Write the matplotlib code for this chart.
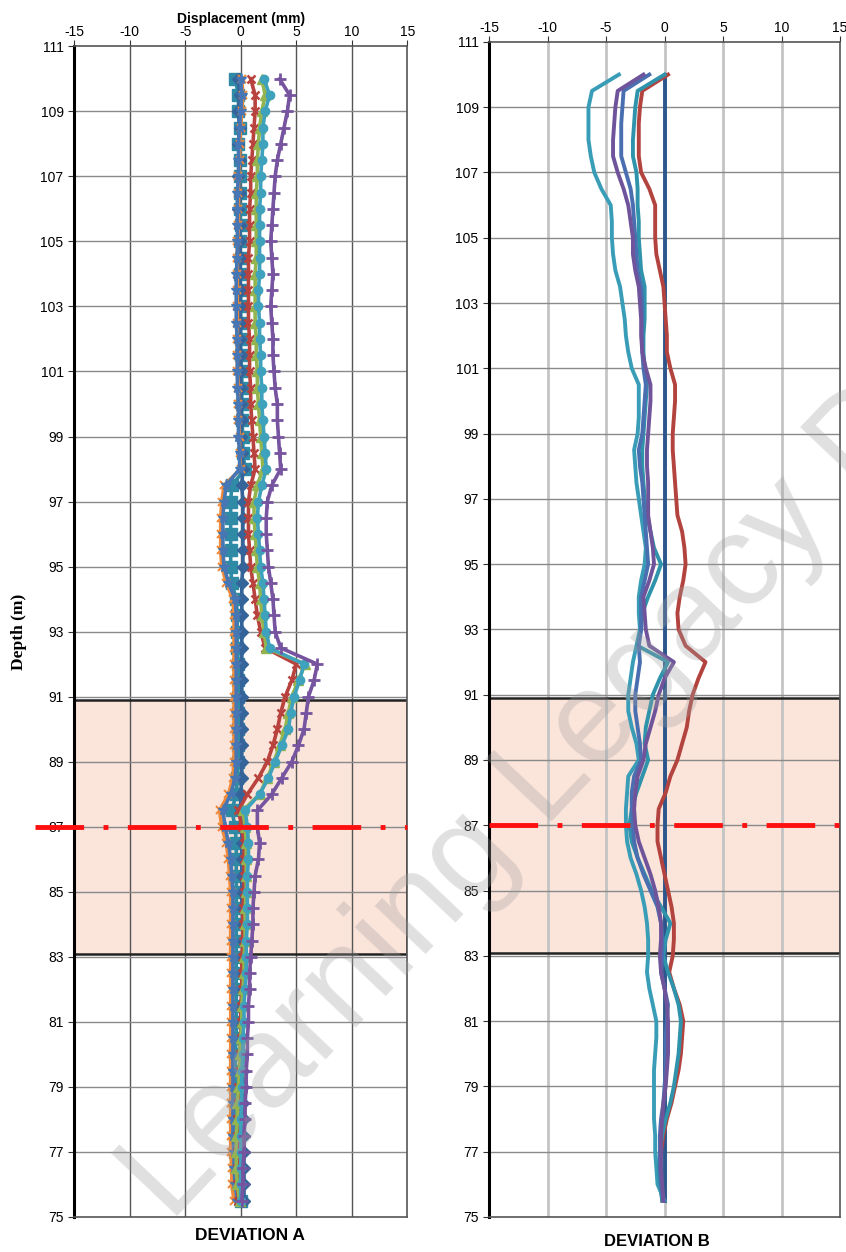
import numpy as np
import matplotlib.pyplot as plt
from matplotlib.patches import Rectangle

# inclinometer stations, top of casing to toe (m)
depth = np.arange(110.0, 75.4, -0.5)

# ---- DEVIATION A (mm) ----
a_diamond = [-0.2, -0.1, -0.2, -0.1, -0.2, -0.1, -0.2, -0.1, -0.2, -0.1,
             -0.1, 0.0, -0.1, 0.0, -0.1, 0.0, -0.1, 0.0, 0.0, 0.0,
             0.0, 0.1, 0.0, 0.1, 0.2, 0.1, 0.2, 0.2, 0.2, 0.2,
             0.2, 0.1, 0.1, 0.1, 0.1, 0.1, 0.1, 0.1, 0.1, 0.1,
             0.1, 0.1, 0.1, 0.1, 0.0, 0.0, 0.1, 0.1, 0.1, 0.1,
             0.1, 0.1, 0.2, 0.2, 0.2, 0.2, 0.2, 0.2, 0.2, 0.2,
             0.2, 0.2, 0.2, 0.2, 0.3, 0.3, 0.3, 0.3, 0.3, 0.3]
a_square = [-0.5, -0.2, -0.2, -0.1, -0.2, -0.1, -0.1, -0.1, -0.1, 0.0,
            -0.1, 0.0, -0.1, 0.0, 0.0, 0.0, 0.0, 0.0, 0.1, 0.1,
            0.1, 0.1, 0.2, 0.2, 0.4, -0.8, -0.9, -0.9, -0.9, -0.9,
            -0.9, -0.8, -0.4, -0.3, -0.3, -0.3, -0.2, -0.2, -0.2, -0.2,
            -0.2, -0.2, -0.2, -0.3, -0.4, -0.8, -0.5, -0.4, -0.4, -0.4,
            -0.4, -0.4, -0.4, -0.4, -0.4, -0.4, -0.4, -0.4, -0.4, -0.4,
            -0.5, -0.5, -0.5, -0.5, -0.5, -0.5, -0.5, -0.4, -0.3, 0.0]
a_cross = [0.1, 0.2, 0.1, 0.0, -0.1, -0.1, -0.2, -0.2, -0.2, -0.2,
           -0.3, -0.3, -0.3, -0.3, -0.3, -0.3, -0.3, -0.3, -0.3, -0.2,
           -0.2, -0.2, -0.1, -0.1, 0.0, -1.5, -1.7, -1.8, -1.8, -1.8,
           -1.7, -1.3, -0.7, -0.6, -0.6, -0.6, -0.6, -0.6, -0.6, -0.6,
           -0.6, -0.6, -0.6, -0.7, -1.1, -1.9, -1.7, -1.3, -1.1, -1.0,
           -0.9, -0.9, -0.9, -0.9, -0.9, -0.9, -0.9, -0.9, -0.9, -0.9,
           -0.9, -0.9, -0.9, -0.9, -0.9, -0.9, -0.9, -0.8, -0.8, -0.6]
a_star = [0.0, 0.1, 0.0, -0.1, -0.2, -0.2, -0.2, -0.3, -0.3, -0.3,
          -0.3, -0.3, -0.4, -0.4, -0.4, -0.4, -0.3, -0.3, -0.3, -0.3,
          -0.2, -0.2, -0.2, -0.1, -0.1, -1.3, -1.5, -1.6, -1.6, -1.6,
          -1.5, -1.1, -0.5, -0.4, -0.4, -0.4, -0.4, -0.4, -0.4, -0.4,
          -0.4, -0.4, -0.4, -0.5, -0.9, -1.6, -1.4, -1.1, -0.9, -0.8,
          -0.7, -0.7, -0.7, -0.7, -0.7, -0.7, -0.7, -0.7, -0.7, -0.7,
          -0.7, -0.7, -0.7, -0.7, -0.7, -0.7, -0.6, -0.6, -0.5, -0.3]
a_red = [0.9, 1.3, 1.3, 1.2, 1.1, 1.0, 0.9, 0.9, 0.8, 0.8,
         0.8, 0.7, 0.7, 0.7, 0.7, 0.7, 0.8, 0.8, 0.8, 0.9,
         0.9, 1.0, 1.1, 1.2, 1.3, 0.9, 0.7, 0.7, 0.7, 0.8,
         0.9, 1.1, 1.3, 1.5, 1.8, 2.2, 5.0, 4.6, 4.0, 3.6,
         3.3, 2.9, 2.4, 1.6, 0.6, -0.2, 0.1, 0.3, 0.3, 0.3,
         0.3, 0.2, 0.2, 0.2, 0.1, 0.1, 0.1, 0.0, 0.0, 0.0,
         -0.1, -0.1, -0.2, -0.2, -0.3, -0.3, -0.3, -0.3, -0.3, -0.2]
a_green = [1.9, 2.2, 1.9, 1.7, 1.6, 1.5, 1.5, 1.4, 1.4, 1.4,
           1.4, 1.4, 1.3, 1.3, 1.3, 1.3, 1.4, 1.4, 1.5, 1.5,
           1.6, 1.7, 1.8, 1.9, 2.0, 1.5, 1.2, 1.2, 1.3, 1.4,
           1.5, 1.7, 1.8, 1.9, 2.1, 2.3, 5.8, 5.2, 4.6, 4.3,
           4.0, 3.5, 3.0, 2.4, 1.7, 0.2, 0.4, 0.5, 0.5, 0.5,
           0.5, 0.4, 0.4, 0.4, 0.3, 0.3, 0.2, 0.1, 0.1, 0.0,
           -0.1, -0.1, -0.2, -0.3, -0.3, -0.4, -0.4, -0.4, -0.3, -0.1]
a_cyan = [2.1, 2.6, 2.2, 2.0, 2.0, 1.9, 1.8, 1.8, 1.7, 1.7,
          1.7, 1.7, 1.7, 1.6, 1.6, 1.7, 1.7, 1.8, 1.8, 1.9,
          1.9, 2.0, 2.1, 2.2, 2.3, 1.9, 1.6, 1.5, 1.6, 1.7,
          1.8, 2.0, 2.1, 2.2, 2.3, 2.6, 5.7, 5.3, 4.8, 4.5,
          4.3, 3.7, 3.1, 2.5, 1.7, 0.4, 0.6, 0.7, 0.7, 0.6,
          0.6, 0.6, 0.6, 0.5, 0.5, 0.5, 0.4, 0.3, 0.3, 0.2,
          0.2, 0.1, 0.1, 0.1, 0.0, 0.0, 0.0, 0.0, 0.0, 0.0]
a_purple = [3.5, 4.4, 4.2, 3.9, 3.6, 3.3, 3.1, 3.0, 2.9, 2.8,
            2.7, 2.8, 2.9, 2.8, 2.7, 2.8, 2.9, 2.9, 3.0, 3.1,
            3.3, 3.3, 3.4, 3.5, 3.6, 2.8, 2.4, 2.3, 2.3, 2.4,
            2.5, 2.7, 2.9, 3.0, 3.1, 3.6, 6.9, 6.6, 6.1, 5.9,
            5.7, 5.2, 4.6, 3.7, 2.8, 1.5, 1.5, 1.7, 1.6, 1.3,
            1.2, 1.1, 1.1, 1.0, 0.9, 0.8, 0.8, 0.7, 0.7, 0.6,
            0.6, 0.5, 0.5, 0.4, 0.4, 0.3, 0.3, 0.2, 0.2, 0.1]

# ---- DEVIATION B (mm) ----
b_navy = [0.0] * 70
b_red = [0.3, -1.9, -2.1, -2.2, -2.2, -2.2, -2.0, -1.3, -0.8, -0.8,
         -0.8, -0.7, -0.4, -0.1, 0.0, 0.1, 0.2, 0.2, 0.5, 0.9,
         0.9, 0.8, 0.7, 0.7, 0.8, 0.9, 1.0, 1.1, 1.5, 1.7,
         1.8, 1.6, 1.3, 1.1, 1.2, 1.8, 3.5, 2.9, 2.4, 2.1,
         1.9, 1.5, 1.1, 0.5, 0.1, -0.5, -0.6, -0.6, -0.3, 0.0,
         0.3, 0.6, 0.8, 0.8, 0.7, 0.4, 0.8, 1.3, 1.6, 1.5,
         1.4, 1.2, 0.9, 0.6, 0.2, -0.1, -0.3, -0.4, -0.3, -0.2]
b_cyan = [-3.9, -6.2, -6.5, -6.5, -6.5, -6.3, -6.0, -5.4, -4.6, -4.5,
          -4.5, -4.4, -4.2, -3.8, -3.6, -3.4, -3.3, -3.1, -2.8, -2.2,
          -2.2, -2.2, -2.3, -2.6, -2.5, -2.4, -2.2, -2.0, -1.8, -1.6,
          -1.7, -2.0, -2.2, -2.2, -2.1, -2.4, -2.7, -2.9, -3.1, -3.1,
          -2.8, -2.4, -2.2, -3.1, -3.2, -3.3, -3.3, -3.2, -2.9, -2.4,
          -2.0, -1.7, -1.5, -1.4, -1.4, -1.5, -1.3, -1.0, -0.7, -0.7,
          -0.8, -0.9, -0.9, -0.9, -0.9, -0.8, -0.8, -0.7, -0.6, 0.0]
b_teal = [0.0, -2.3, -2.5, -2.6, -2.7, -2.7, -2.4, -2.3, -2.3, -2.2,
          -2.2, -2.1, -2.0, -1.7, -1.7, -1.7, -1.8, -1.8, -1.7, -1.5,
          -1.6, -1.7, -1.8, -1.9, -1.9, -1.8, -1.7, -1.5, -1.2, -0.9,
          -0.3, -0.8, -1.4, -1.9, -2.0, -2.3, 0.3, -0.4, -1.0, -1.3,
          -1.6, -1.7, -1.4, -1.9, -2.4, -2.8, -3.0, -2.8, -2.3, -1.7,
          -1.1, -0.3, 0.5, 0.1, -0.1, 0.3, 0.8, 1.2, 1.4, 1.3,
          1.2, 1.0, 0.8, 0.5, 0.1, -0.2, -0.4, -0.5, -0.4, -0.2]
b_blue = [-1.3, -3.5, -3.6, -3.7, -3.7, -3.7, -3.3, -2.9, -2.7, -2.6,
          -2.5, -2.4, -2.3, -2.0, -1.9, -1.9, -1.9, -1.9, -1.8, -1.6,
          -1.7, -1.8, -1.9, -2.2, -2.1, -1.9, -1.8, -1.7, -1.6, -1.5,
          -1.4, -1.7, -2.0, -2.0, -2.0, -2.2, -2.1, -2.3, -2.5, -2.5,
          -2.3, -2.1, -2.0, -2.6, -2.8, -2.8, -2.7, -2.6, -2.3, -1.8,
          -1.2, -0.6, -0.3, -0.2, -0.2, -0.3, 0.0, 0.3, 0.2, 0.1,
          0.1, 0.1, 0.0, -0.1, -0.3, -0.4, -0.4, -0.4, -0.3, -0.1]
b_purple = [-1.8, -4.0, -4.2, -4.3, -4.4, -4.4, -4.0, -3.5, -3.1, -2.9,
            -2.7, -2.7, -2.5, -2.2, -2.1, -2.0, -2.0, -1.9, -1.6, -1.2,
            -1.2, -1.3, -1.4, -1.5, -1.5, -1.4, -1.4, -1.4, -1.2, -1.0,
            -0.9, -1.3, -1.8, -1.7, -1.6, -1.3, 0.8, 0.0, -0.5, -0.8,
            -1.2, -1.6, -1.8, -2.3, -2.5, -2.6, -2.5, -2.2, -1.7, -1.2,
            -0.8, -0.5, -0.3, -0.3, -0.4, -0.3, 0.0, 0.2, 0.3, 0.3,
            0.3, 0.2, 0.1, -0.1, -0.2, -0.3, -0.3, -0.3, -0.2, -0.1]

zone_top, zone_bottom = 90.9, 83.1
shear_level = 87.0

plt.rcParams['font.family'] = ['Liberation Sans', 'DejaVu Sans']
plt.rcParams['axes.unicode_minus'] = False


def setup_axes(ax, vgrid_color, vgrid_lw):
    ax.set_xlim(-15, 15)
    ax.set_ylim(75, 111)
    ax.set_xticks(np.arange(-15, 16, 5))
    ax.set_yticks(np.arange(75, 112, 2))
    ax.xaxis.tick_top()
    ax.tick_params(axis='both', labelsize=10, length=4, width=0.8, colors='#333333',
                   labelcolor='black')
    ax.tick_params(axis='x', pad=1)
    for x in np.arange(-10, 15, 5):
        ax.axvline(x, color=vgrid_color, lw=vgrid_lw, zorder=0.5)
    for y in np.arange(77, 111, 2):
        ax.axhline(y, color='#8a8a8a', lw=1.0, zorder=0.5)
    for s in ['top', 'right', 'bottom']:
        ax.spines[s].set_color('#555555')
        ax.spines[s].set_linewidth(1.2)
    ax.spines['left'].set_color('black')
    ax.spines['left'].set_linewidth(2.2)
    # zone of interest: fill under the grid, frame on top of it
    ax.add_patch(Rectangle((-15, zone_bottom), 30, zone_top - zone_bottom,
                           facecolor='#fbe4da', edgecolor='none', zorder=0.3))
    ax.add_patch(Rectangle((-15, zone_bottom), 30, zone_top - zone_bottom,
                           facecolor='none', edgecolor='#222222', lw=1.8, zorder=1.5))


fig = plt.figure(figsize=(8.46, 12.52), dpi=100)
axA = fig.add_axes([0.0875, 0.028, 0.394, 0.935])
axB = fig.add_axes([0.578, 0.028, 0.415, 0.9385])

setup_axes(axA, '#555555', 1.0)
setup_axes(axB, '#c4c4c4', 2.0)

# deviation A: one trace per reading, Excel-style markers
a_traces = [
    (a_square, '#2f8ba5', 's', 9, 1.0),
    (a_diamond, '#35649a', 'D', 6, 1.0),
    (a_cross, '#f08a3a', 'x', 6, 1.5),
    (a_star, '#4776b4', '*', 8, 1.0),
    (a_red, '#b8423d', 'x', 6, 1.8),
    (a_green, '#93b44f', '^', 7, 1.0),
    (a_cyan, '#3ea2bd', 'o', 6, 1.0),
    (a_purple, '#76549f', '+', 9, 2.0),
]
for vals, col, mk, ms, mew in a_traces:
    axA.plot(vals, depth, color=col, lw=2.6, marker=mk, markersize=ms,
             markeredgewidth=mew, markeredgecolor=col, zorder=3)

# deviation B: plain lines
b_traces = [
    (b_navy, '#2c568c'),
    (b_red, '#b3433e'),
    (b_cyan, '#3a9db8'),
    (b_teal, '#2f93ab'),
    (b_blue, '#4a6fb0'),
    (b_purple, '#6f549b'),
]
for vals, col in b_traces:
    axB.plot(vals, depth, color=col, lw=2.8, solid_joinstyle='round', zorder=3)

# shear level; on the left chart it runs out past the depth labels
axA.plot([-18.5, 15], [shear_level, shear_level], color='#ff1010', lw=3.5,
         dashes=(10, 4, 1, 4), clip_on=False, zorder=4)
axB.plot([-15, 15], [shear_level, shear_level], color='#ff1010', lw=3.5,
         dashes=(10, 4, 1, 4), zorder=4)

axA.set_xlabel('Displacement (mm)', fontsize=10, fontweight='bold', labelpad=2)
axA.xaxis.set_label_position('top')
axA.set_ylabel('Depth (m)', fontsize=12.5, fontweight='bold',
               family=['Liberation Serif', 'DejaVu Serif'], labelpad=10)

fig.text(0.296, 0.0135, 'DEVIATION A', fontsize=12.5, fontweight='bold',
         ha='center', va='center')
fig.text(0.777, 0.008, 'DEVIATION B', fontsize=12, fontweight='bold',
         ha='center', va='center')

# faint diagonal watermark
fig.text(0.225, 0.008, 'Learning Legacy Document', fontsize=94, color='#a0a0a0',
         alpha=0.32, rotation=46.5, rotation_mode='anchor', ha='left', va='bottom',
         zorder=10)

fig.savefig('out.png', dpi=100)
